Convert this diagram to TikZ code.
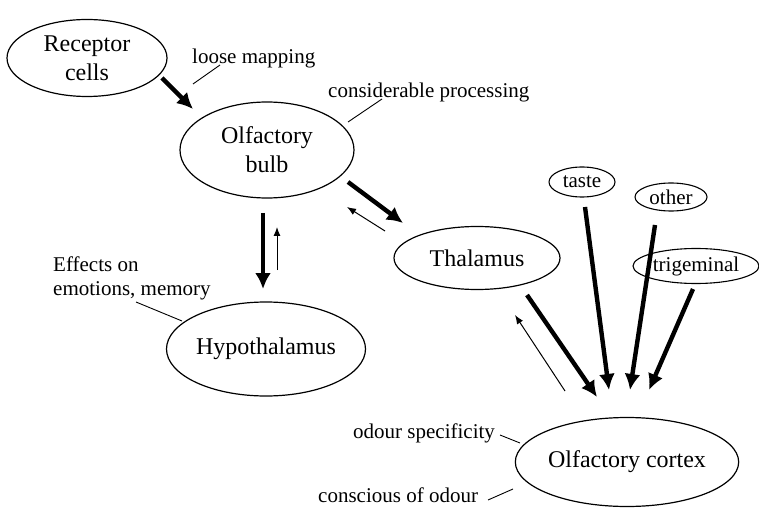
\documentclass[tikz,border=0pt]{standalone}
\usepackage{fontspec}
\setmainfont{Liberation Serif}
\usetikzlibrary{shapes.geometric,arrows.meta}
\begin{document}
\begin{tikzpicture}[x=1pt,y=-1pt,
  region/.style={ellipse,draw,line width=1.2pt,inner sep=0pt,align=center,
    font=\fontsize{24}{29}\selectfont},
  minor/.style={ellipse,draw,line width=1.1pt,inner sep=0pt,
    font=\fontsize{21}{24}\selectfont},
  note/.style={inner sep=0pt,align=left,font=\fontsize{21}{24}\selectfont},
  leader/.style={line width=0.9pt},
  strong/.style={line width=4.4pt,-{Latex[length=16pt,width=16pt]}},
  weak/.style={line width=1pt,-{Latex[length=9pt,width=7pt]}}]
\useasboundingbox (0,0) rectangle (759,510);

% brain regions
\node[region,minimum width=160pt,minimum height=77pt] (rec) at (87,58) {Receptor\\cells};
\node[region,minimum width=174pt,minimum height=96pt] (bulb) at (267,150) {Olfactory\\bulb};
\node[region,minimum width=166pt,minimum height=63pt] (thal) at (477,258) {Thalamus};
\node[region,minimum width=199pt,minimum height=94pt] (hypo) at (266,349) {Hypothalamus};
\node[region,minimum width=219pt,minimum height=89pt] (cortex) at (627,462) {Olfactory cortex};

% other senses feeding the cortex
\node[minor,minimum width=66pt,minimum height=30pt] (taste) at (582,182) {taste};
\node[minor,minimum width=72pt,minimum height=28pt] (other) at (671,197) {other};
\node[minor,minimum width=126pt,minimum height=35pt] (trig) at (696,266) {trigeminal};

% annotations
\node[note,anchor=base west] (loose) at (192,64) {loose mapping};
\node[note,anchor=base west] (proc) at (328,98) {considerable processing};
\node[note,anchor=base west] (eff) at (53,295) {Effects on\\emotions, memory};
\node[note,anchor=base west] (spec) at (353,438) {odour specificity};
\node[note,anchor=base west] (consc) at (318,502) {conscious of odour};

% leader lines from annotations
\coordinate (l1a) at (193,84);  \coordinate (l1b) at (220,65);
\coordinate (l2a) at (348,122); \coordinate (l2b) at (382,99);
\coordinate (l3a) at (136,302); \coordinate (l3b) at (182,321);
\coordinate (l4a) at (500,435); \coordinate (l4b) at (520,443);
\coordinate (l5a) at (488,500); \coordinate (l5b) at (513,489);
\draw[leader] (l1a) -- (l1b);
\draw[leader] (l2a) -- (l2b);
\draw[leader] (l3a) -- (l3b);
\draw[leader] (l4a) -- (l4b);
\draw[leader] (l5a) -- (l5b);

% pathway arrows
\coordinate (a1s) at (162,78);  \coordinate (a1e) at (193,109);
\coordinate (a2s) at (348,182); \coordinate (a2e) at (403,223);
\coordinate (a3s) at (385,231); \coordinate (a3e) at (347,207);
\coordinate (a4s) at (263,213); \coordinate (a4e) at (263,289);
\coordinate (a5s) at (277,270); \coordinate (a5e) at (277,227);
\coordinate (a6s) at (527,295); \coordinate (a6e) at (597,397);
\coordinate (a7s) at (565,391); \coordinate (a7e) at (515,315);
\coordinate (a8s) at (585,207); \coordinate (a8e) at (609,390);
\coordinate (a9s) at (655,225); \coordinate (a9e) at (630,390);
\coordinate (a10s) at (693,289); \coordinate (a10e) at (649,390);
\draw[strong] (a1s) -- (a1e);
\draw[strong] (a2s) -- (a2e);
\draw[weak] (a3s) -- (a3e);
\draw[strong] (a4s) -- (a4e);
\draw[weak] (a5s) -- (a5e);
\draw[strong] (a6s) -- (a6e);
\draw[weak] (a7s) -- (a7e);
\draw[strong] (a8s) -- (a8e);
\draw[strong] (a9s) -- (a9e);
\draw[strong] (a10s) -- (a10e);
\end{tikzpicture}
\end{document}
